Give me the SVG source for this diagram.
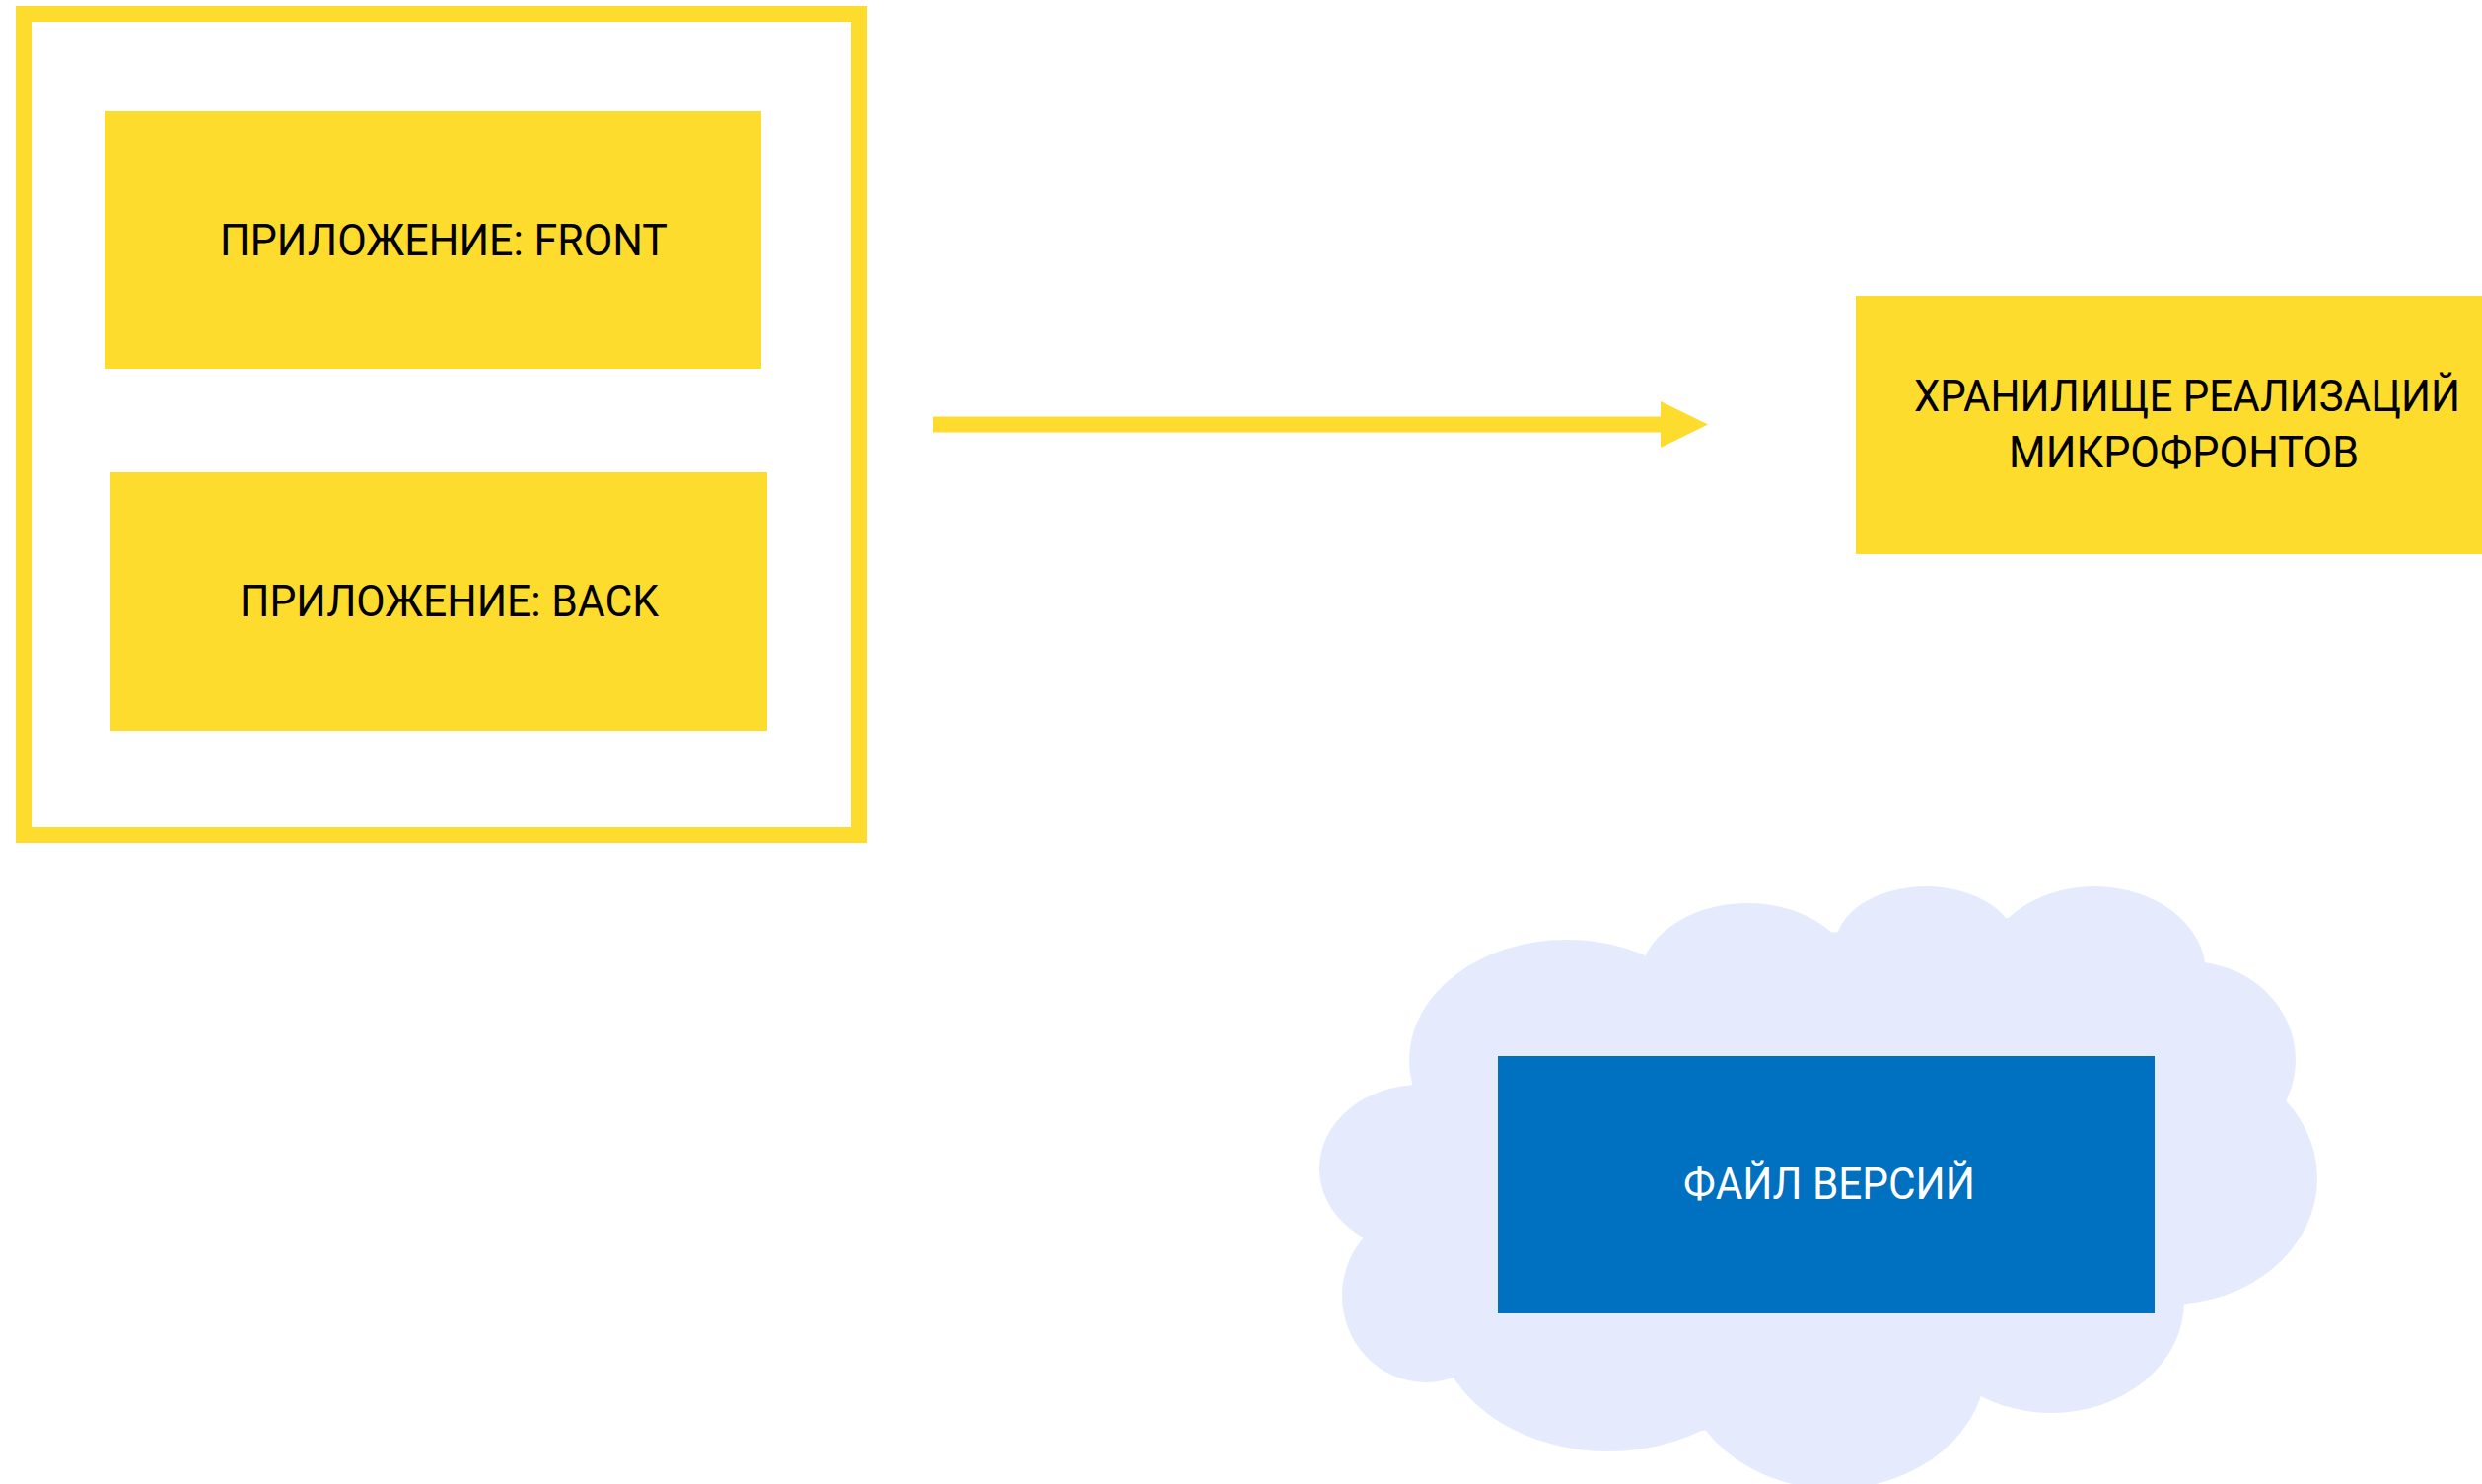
<svg xmlns="http://www.w3.org/2000/svg" width="2517" height="1505" viewBox="0 0 2517 1505">
<defs>
<style>
.yel{fill:#FDDC2E;}
.frame{fill:none;stroke:#FDDC2E;stroke-width:16;}
.lbl{font-family:Roboto,"Liberation Sans",sans-serif;font-size:45px;fill:#000;}
.wlbl{font-family:Roboto,"Liberation Sans",sans-serif;font-size:45px;fill:#fff;}
.cloud{fill:#E5EBFD;}
.conn{stroke:#FDDC2E;stroke-width:16;fill:none;}
</style>
<marker id="head" markerUnits="userSpaceOnUse" markerWidth="48" markerHeight="48" refX="0" refY="23.5" orient="auto" viewBox="0 0 48 47">
<path d="M0,0 L48,23.5 L0,47 z" fill="#FDDC2E"/>
</marker>
</defs>
<rect width="2517" height="1505" fill="#fff"/>

<g id="apps-frame">
<rect class="frame" x="24" y="14" width="847" height="833"/>
</g>

<g id="node-front">
<rect class="yel" x="106" y="113" width="666" height="261"/>
<text class="lbl" x="223" y="259" textLength="454" lengthAdjust="spacingAndGlyphs">ПРИЛОЖЕНИЕ: FRONT</text>
</g>

<g id="node-back">
<rect class="yel" x="112" y="479" width="666" height="262"/>
<text class="lbl" x="243" y="625" textLength="425" lengthAdjust="spacingAndGlyphs">ПРИЛОЖЕНИЕ: BACK</text>
</g>

<g id="node-storage">
<rect class="yel" x="1882" y="300" width="666" height="262"/>
<text class="lbl" x="1941" y="417" textLength="554" lengthAdjust="spacingAndGlyphs">ХРАНИЛИЩЕ РЕАЛИЗАЦИЙ</text>
<text class="lbl" x="2037" y="474" textLength="355" lengthAdjust="spacingAndGlyphs">МИКРОФРОНТОВ</text>
</g>

<g id="cloud">
<polygon class="cloud" points="1430,1101 1667,970 1864,945 2037,931 2236,976 2318,1115 2215,1322 2006,1416 1725,1451 1474,1397 1388,1257"/>
<ellipse class="cloud" cx="1589" cy="1075" rx="160" ry="122"/>
<ellipse class="cloud" cx="1772" cy="996" rx="110" ry="80"/>
<ellipse class="cloud" cx="1953" cy="960" rx="92" ry="61"/>
<ellipse class="cloud" cx="2124" cy="987" rx="113" ry="88"/>
<ellipse class="cloud" cx="2220" cy="1075" rx="108" ry="100"/>
<ellipse class="cloud" cx="2200" cy="1195" rx="150" ry="128"/>
<ellipse class="cloud" cx="2080" cy="1320" rx="135" ry="113"/>
<ellipse class="cloud" cx="1860" cy="1380" rx="155" ry="130"/>
<ellipse class="cloud" cx="1631" cy="1338" rx="175" ry="134"/>
<ellipse class="cloud" cx="1446" cy="1314" rx="85" ry="88"/>
<ellipse class="cloud" cx="1440" cy="1185" rx="102" ry="85"/>
</g>

<g id="node-versions">
<rect x="1519" y="1071" width="666" height="261" fill="#0070C0"/>
<text class="wlbl" x="1707" y="1216" textLength="296" lengthAdjust="spacingAndGlyphs">ФАЙЛ ВЕРСИЙ</text>
</g>

<g id="connectors">
<path class="conn" d="M946,430.5 L1684,430.5" marker-end="url(#head)"/>
</g>
</svg>
